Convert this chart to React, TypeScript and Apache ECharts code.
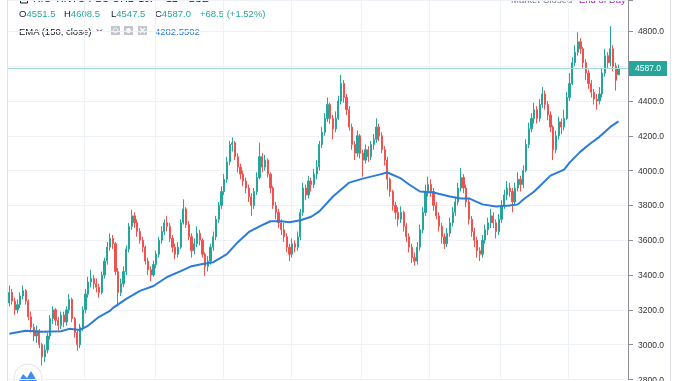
import React, { useEffect, useRef } from 'react';
import * as echarts from 'echarts';

// [open, close, low, high]
const candles: number[][] = [
  [3240, 3300, 3220, 3340], [3300, 3250, 3230, 3320], [3250, 3200, 3170, 3270], [3200, 3230, 3180, 3260], [3230, 3280, 3210, 3300],
  [3280, 3310, 3260, 3340], [3310, 3250, 3230, 3320], [3250, 3160, 3140, 3260], [3160, 3100, 3070, 3190], [3100, 3050, 3020, 3120],
  [3050, 3080, 3010, 3110], [3080, 3000, 2980, 3090], [3000, 2930, 2880, 3010], [2930, 2970, 2900, 3000], [2970, 3050, 2950, 3070],
  [3050, 3150, 3030, 3170], [3150, 3200, 3120, 3220], [3200, 3140, 3110, 3210], [3140, 3110, 3080, 3160], [3110, 3170, 3090, 3190],
  [3170, 3130, 3100, 3190], [3130, 3200, 3110, 3220], [3200, 3260, 3180, 3290], [3260, 3150, 3130, 3270], [3150, 3070, 3040, 3160],
  [3070, 3000, 2965, 3080], [3000, 3100, 2980, 3120], [3100, 3200, 3080, 3220], [3200, 3290, 3180, 3320], [3290, 3360, 3270, 3390],
  [3360, 3380, 3330, 3430], [3380, 3350, 3320, 3400], [3350, 3330, 3300, 3380], [3330, 3300, 3270, 3350], [3300, 3400, 3290, 3420],
  [3400, 3480, 3380, 3500], [3480, 3560, 3460, 3590], [3560, 3610, 3540, 3640], [3610, 3580, 3550, 3630], [3580, 3420, 3400, 3590],
  [3420, 3300, 3220, 3440], [3300, 3350, 3280, 3380], [3350, 3420, 3330, 3450], [3420, 3550, 3400, 3570], [3550, 3680, 3530, 3700],
  [3680, 3740, 3660, 3775], [3740, 3700, 3670, 3760], [3700, 3650, 3620, 3720], [3650, 3600, 3580, 3670], [3600, 3560, 3530, 3620],
  [3560, 3480, 3460, 3570], [3480, 3430, 3400, 3500], [3430, 3400, 3365, 3450], [3400, 3460, 3390, 3480], [3460, 3520, 3440, 3540],
  [3520, 3600, 3500, 3620], [3600, 3650, 3580, 3680], [3650, 3700, 3630, 3720], [3700, 3680, 3650, 3740], [3680, 3610, 3590, 3700],
  [3610, 3560, 3530, 3630], [3560, 3520, 3490, 3580], [3520, 3560, 3500, 3590], [3560, 3700, 3550, 3720], [3700, 3780, 3690, 3835],
  [3780, 3690, 3670, 3790], [3690, 3620, 3600, 3710], [3620, 3540, 3500, 3640], [3540, 3580, 3520, 3610], [3580, 3640, 3560, 3680],
  [3640, 3600, 3570, 3660], [3600, 3520, 3500, 3610], [3520, 3450, 3395, 3530], [3450, 3480, 3420, 3510], [3480, 3560, 3460, 3580],
  [3560, 3620, 3540, 3650], [3620, 3720, 3600, 3740], [3720, 3800, 3700, 3820], [3800, 3880, 3780, 3910], [3880, 3950, 3860, 3980],
  [3950, 4050, 3930, 4080], [4050, 4150, 4030, 4170], [4150, 4160, 4110, 4190], [4160, 4080, 4060, 4170], [4080, 4020, 3990, 4100],
  [4020, 3980, 3950, 4040], [3980, 3940, 3910, 4000], [3940, 3900, 3870, 3960], [3900, 3850, 3820, 3920], [3850, 3800, 3740, 3870],
  [3800, 3880, 3780, 3900], [3880, 3960, 3860, 3990], [3960, 4080, 3950, 4160], [4080, 4020, 3990, 4100], [4020, 4060, 4000, 4090],
  [4060, 3980, 3960, 4070], [3980, 3900, 3870, 3990], [3900, 3800, 3780, 3910], [3800, 3760, 3720, 3820], [3760, 3700, 3670, 3780],
  [3700, 3660, 3630, 3720], [3660, 3620, 3590, 3700], [3620, 3560, 3530, 3640], [3560, 3520, 3480, 3580], [3520, 3580, 3500, 3610],
  [3580, 3560, 3530, 3600], [3560, 3620, 3540, 3650], [3620, 3760, 3600, 3780], [3760, 3900, 3740, 3930], [3900, 3860, 3830, 3920],
  [3860, 3940, 3840, 3970], [3940, 3920, 3880, 3960], [3920, 3980, 3900, 4010], [3980, 4020, 3950, 4060], [4020, 4150, 4000, 4170],
  [4150, 4220, 4130, 4250], [4220, 4300, 4200, 4330], [4300, 4380, 4280, 4420], [4380, 4300, 4270, 4390], [4300, 4240, 4180, 4320],
  [4240, 4300, 4220, 4340], [4300, 4400, 4290, 4430], [4400, 4500, 4380, 4550], [4500, 4420, 4390, 4520], [4420, 4350, 4320, 4440],
  [4350, 4250, 4230, 4370], [4250, 4150, 4120, 4270], [4150, 4100, 4060, 4170], [4100, 4200, 4080, 4230], [4200, 4100, 4070, 4210],
  [4100, 4060, 3965, 4120], [4060, 4120, 4040, 4150], [4120, 4080, 4050, 4140], [4080, 4150, 4060, 4170], [4150, 4180, 4120, 4210],
  [4180, 4250, 4160, 4300], [4250, 4200, 4170, 4270], [4200, 4120, 4100, 4220], [4120, 4060, 4030, 4140], [4060, 3950, 3890, 4080],
  [3950, 3880, 3850, 3960], [3880, 3800, 3770, 3890], [3800, 3760, 3720, 3820], [3760, 3720, 3680, 3790], [3720, 3760, 3700, 3795],
  [3760, 3680, 3650, 3770], [3680, 3620, 3590, 3700], [3620, 3560, 3530, 3640], [3560, 3500, 3470, 3580], [3500, 3480, 3455, 3530],
  [3480, 3560, 3460, 3590], [3560, 3660, 3540, 3690], [3660, 3760, 3640, 3790], [3760, 3880, 3740, 3920], [3880, 3920, 3850, 3965],
  [3920, 3880, 3850, 3950], [3880, 3800, 3770, 3900], [3800, 3740, 3720, 3820], [3740, 3680, 3650, 3760], [3680, 3620, 3580, 3700],
  [3620, 3580, 3550, 3640], [3580, 3640, 3560, 3670], [3640, 3700, 3620, 3730], [3700, 3760, 3680, 3790], [3760, 3820, 3740, 3850],
  [3820, 3900, 3800, 3930], [3900, 3960, 3880, 4015], [3960, 3900, 3870, 3980], [3900, 3820, 3790, 3920], [3820, 3720, 3690, 3840],
  [3720, 3650, 3620, 3740], [3650, 3600, 3560, 3670], [3600, 3540, 3500, 3620], [3540, 3520, 3480, 3560], [3520, 3600, 3500, 3630],
  [3600, 3660, 3580, 3690], [3660, 3700, 3630, 3730], [3700, 3740, 3670, 3780], [3740, 3700, 3670, 3760], [3700, 3650, 3610, 3720],
  [3650, 3720, 3630, 3750], [3720, 3800, 3700, 3830], [3800, 3860, 3780, 3890], [3860, 3900, 3830, 3940], [3900, 3880, 3850, 3930],
  [3880, 3820, 3760, 3900], [3820, 3900, 3800, 3930], [3900, 3950, 3880, 3990], [3950, 3920, 3880, 3970], [3920, 4000, 3900, 4030],
  [4000, 4150, 3990, 4180], [4150, 4240, 4130, 4275], [4240, 4300, 4220, 4330], [4300, 4350, 4270, 4390], [4350, 4300, 4270, 4370],
  [4300, 4380, 4280, 4410], [4380, 4440, 4360, 4480], [4440, 4380, 4350, 4460], [4380, 4320, 4290, 4400], [4320, 4250, 4220, 4340],
  [4250, 4120, 4060, 4260], [4120, 4200, 4100, 4230], [4200, 4280, 4180, 4310], [4280, 4250, 4210, 4300], [4250, 4300, 4230, 4350],
  [4300, 4420, 4290, 4450], [4420, 4500, 4400, 4560], [4500, 4620, 4490, 4650], [4620, 4680, 4600, 4720], [4680, 4740, 4660, 4795],
  [4740, 4700, 4670, 4760], [4700, 4620, 4590, 4710], [4620, 4560, 4520, 4640], [4560, 4500, 4470, 4580], [4500, 4450, 4420, 4520],
  [4450, 4410, 4380, 4470], [4410, 4400, 4350, 4440], [4400, 4440, 4380, 4480], [4440, 4560, 4420, 4590], [4560, 4660, 4540, 4700],
  [4660, 4620, 4590, 4680], [4620, 4700, 4600, 4830], [4700, 4600, 4570, 4720], [4600, 4518.5, 4460, 4620], [4551.5, 4587, 4547.5, 4608.5],
];

// EMA(150): [bar index, value]
const emaPoints: number[][] = [
  [0, 3063], [6, 3080], [12, 3075], [19, 3077], [22, 3091], [26, 3085], [29, 3110], [33, 3160], [37, 3194], [38, 3210],
  [43, 3263], [48, 3309], [53, 3337], [58, 3389], [63, 3423], [67, 3451], [71, 3463], [75, 3474], [80, 3520], [84, 3589],
  [88, 3646], [92, 3680], [96, 3709], [100, 3709], [103, 3703], [107, 3715], [111, 3735], [114, 3766], [119, 3851], [125, 3931],
  [130, 3954], [136, 3977], [139, 3989], [144, 3955], [147, 3920], [151, 3880], [156, 3874], [162, 3851], [166, 3840], [169, 3840],
  [174, 3806], [179, 3794], [184, 3800], [187, 3806], [189, 3834], [193, 3880], [199, 3971], [204, 4006], [206, 4046], [210, 4109],
  [214, 4160], [217, 4194], [221, 4251], [224, 4282.5502],
];

const yTickLabels = [2800, 3000, 3200, 3400, 3600, 3800, 4000, 4200, 4400, 4800];
const vGridIdx = [28, 54, 79, 104, 130, 155, 181, 206];
const blankBars = 3;
const titleText = 'RIO TINTO PLC ORD 10P · 1D · LSE ·';
const indicatorName = 'EMA (150, close)';

const UP = '#26a69a';
const DOWN = '#ef5350';
const FONT = '"Liberation Sans", Arial, sans-serif';

export default function App() {
  const ref = useRef<HTMLDivElement>(null);
  useEffect(() => {
    if (!ref.current) return;
    const chart = echarts.init(ref.current, null, { renderer: 'svg' });
    const cats = Array.from({ length: candles.length + blankBars }, (_, i) => String(i));
    const last = candles[candles.length - 1];
    const prevClose = candles[candles.length - 2][1];
    const chg = last[1] - prevClose;
    const pct = (chg / prevClose) * 100;
    const emaLast = emaPoints[emaPoints.length - 1][1];
    const sign = chg >= 0 ? '+' : '-';
    const valColor = chg >= 0 ? UP : DOWN;

    const pair = (k: string, v: number, x: number) => ({
      type: 'text', left: x, top: 8,
      style: {
        text: `{k|${k}}{v|${v.toFixed(1)}}`,
        rich: {
          k: { fill: '#131722', fontSize: 9.5, fontFamily: FONT },
          v: { fill: valColor, fontSize: 9.5, fontFamily: FONT },
        },
      },
    });

    chart.setOption({
      animation: false,
      textStyle: { fontFamily: FONT },
      grid: { left: 8, right: 50, top: 0, bottom: 0 },
      xAxis: {
        type: 'category', data: cats, boundaryGap: true,
        axisLine: { show: false }, axisTick: { show: false }, axisLabel: { show: false },
        splitLine: { show: true, interval: (idx: number) => vGridIdx.includes(idx), lineStyle: { color: '#eef1f7', width: 1 } },
      },
      yAxis: {
        type: 'value', position: 'right', min: 2800, max: 4980, interval: 200,
        axisLine: { show: true, lineStyle: { color: '#8a8d96' } },
        axisTick: { show: true, length: 5, lineStyle: { color: '#8a8d96' } },
        axisLabel: {
          color: '#333',
          fontSize: 8.5,
          margin: 10,
          formatter: (v: number) => (yTickLabels.includes(v) ? v.toFixed(1) : ''),
        },
        splitLine: { show: true, lineStyle: { color: '#eef1f7' } },
      },
      series: [
        {
          type: 'candlestick',
          data: candles,
          barWidth: 1.7,
          itemStyle: { color: UP, color0: DOWN, borderColor: UP, borderColor0: DOWN, borderWidth: 1 },
          markLine: {
            silent: true,
            symbol: ['none', 'none'],
            data: [{ yAxis: last[1] }],
            lineStyle: { color: '#9fd9d2', type: 'solid', width: 1 },
            label: {
              show: true, position: 'end', distance: 1,
              formatter: last[1].toFixed(1),
              backgroundColor: UP, color: '#fff', fontSize: 8.5, padding: [3, 6],
            },
          },
        },
        {
          type: 'line',
          data: emaPoints,
          showSymbol: false,
          symbol: 'none',
          lineStyle: { color: '#2b7bd8', width: 2 },
          z: 3,
        },
      ],
      graphic: [
        { type: 'line', shape: { x1: 7.5, y1: 0, x2: 7.5, y2: 384 }, style: { stroke: '#e0e3eb', lineWidth: 1 } },
        { type: 'line', shape: { x1: 670.5, y1: 0, x2: 670.5, y2: 384 }, style: { stroke: '#e0e3eb', lineWidth: 1 } },
        { type: 'rect', shape: { x: 20.5, y: -5, width: 7, height: 8 }, style: { fill: 'none', stroke: '#131722', lineWidth: 1 } },
        { type: 'text', left: 33, top: -8, style: { text: titleText, fill: '#131722', fontSize: 10.5, fontFamily: FONT } },
        { type: 'text', left: 505, top: -7, style: {
          text: '{g|• Market Closed}  {p|End of Day}',
          rich: { g: { fill: '#787b86', fontSize: 9.5, fontFamily: FONT }, p: { fill: '#9c27b0', fontSize: 9.5, fontFamily: FONT } },
        } },
        pair('O', last[0], 19),
        pair('H', last[3], 64),
        pair('L', last[2], 111),
        pair('C', last[1], 155),
        { type: 'text', left: 200, top: 8, style: {
          text: `${sign}${Math.abs(chg).toFixed(1)} (${sign}${Math.abs(pct).toFixed(2)}%)`,
          fill: valColor, fontSize: 9.5, fontFamily: FONT,
        } },
        { type: 'text', left: 19, top: 26, style: { text: indicatorName, fill: '#131722', fontSize: 9.5, fontFamily: FONT } },
        { type: 'polyline', shape: { points: [[97, 29.5], [99.5, 32], [102, 29.5]] }, style: { stroke: '#131722', lineWidth: 1, fill: 'none' } },
        { type: 'rect', shape: { x: 111, y: 26, width: 9, height: 9 }, style: { fill: '#c3c6ce' } },
        { type: 'circle', shape: { cx: 115.5, cy: 30.5, r: 2.3 }, style: { fill: 'none', stroke: '#fff', lineWidth: 1 } },
        { type: 'rect', shape: { x: 124, y: 26, width: 9, height: 9 }, style: { fill: '#c3c6ce' } },
        { type: 'circle', shape: { cx: 128.5, cy: 30.5, r: 2.5 }, style: { fill: '#fff' } },
        { type: 'rect', shape: { x: 138, y: 26, width: 9, height: 9 }, style: { fill: '#c3c6ce' } },
        { type: 'line', shape: { x1: 140, y1: 28, x2: 145, y2: 33 }, style: { stroke: '#fff', lineWidth: 1.2 } },
        { type: 'line', shape: { x1: 145, y1: 28, x2: 140, y2: 33 }, style: { stroke: '#fff', lineWidth: 1.2 } },
        { type: 'text', left: 155, top: 26, style: { text: emaLast.toFixed(4), fill: '#2b7bd8', fontSize: 9.5, fontFamily: FONT } },
        { type: 'circle', shape: { cx: 28, cy: 378, r: 14 }, style: { fill: '#fff', stroke: '#dfe2ea', lineWidth: 1 } },
        { type: 'polygon', shape: { points: [[19, 381], [23, 374], [27, 378], [31, 371], [37, 381]] }, style: { fill: '#3d8ee8' } },
      ],
    });
    return () => chart.dispose();
  }, []);
  return <div ref={ref} style={{ position: 'fixed', left: 0, top: 0, width: 678, height: 384 }} />;
}
